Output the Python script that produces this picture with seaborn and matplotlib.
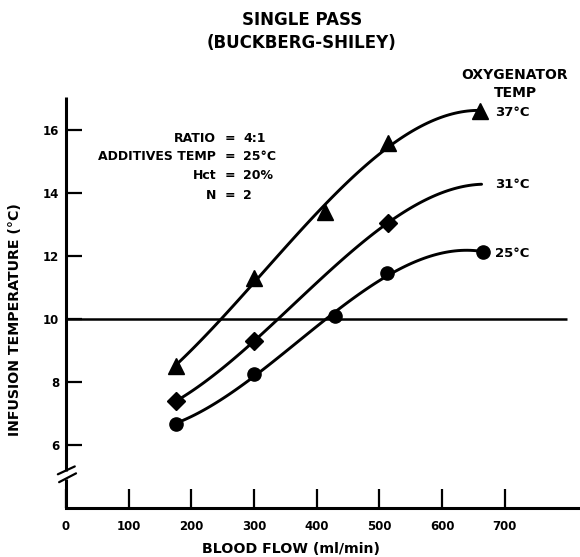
import matplotlib
matplotlib.use("Agg")
import matplotlib.pyplot as plt
import seaborn as sns
import numpy as np
import pandas as pd

# ---- data ----
flow_37 = [175, 300, 413, 514, 660]
temp_37 = [8.5, 11.3, 13.4, 15.6, 16.6]

flow_31 = [176, 300, 514]
temp_31 = [7.4, 9.3, 13.06]
flow_31_curve = [176, 300, 514, 663]      # curve continues past last marker
temp_31_curve = [7.4, 9.3, 13.06, 14.28]

flow_25 = [176, 300, 429, 512, 665]
temp_25 = [6.68, 8.24, 10.1, 11.45, 12.13]

x_ticks = [0, 100, 200, 300, 400, 500, 600, 700]
y_ticks = [6, 8, 10, 12, 14, 16]
ref_level = 10
ref_end = 800

series_labels = ["37°C", "31°C", "25°C"]
info_keys = ["RATIO", "ADDITIVES TEMP", "Hct", "N"]
info_vals = ["4:1", "25°C", "20%", "2"]

# ---- style ----
sns.set_style("white")
plt.rcParams["font.family"] = ["DejaVu Sans"]
plt.rcParams["font.weight"] = "bold"

W, H = 580, 557
fig = plt.figure(figsize=(W / 100, H / 100), dpi=100)
ax = fig.add_axes([66 / W, 49 / H, 1 - 66 / W, (508 - 97) / H])
ax.set_xlim(0, 820)
ax.set_ylim(4, 17.05)

lw = 2.1
k = "black"

# smooth curves (seaborn polynomial fit through the points)
for fx, fy in [(flow_37, temp_37), (flow_31_curve, temp_31_curve), (flow_25, temp_25)]:
    sns.regplot(x=fx, y=fy, order=3, ci=None, scatter=False, truncate=True,
                ax=ax, line_kws=dict(color=k, lw=lw))

# markers
ax.plot(flow_37, temp_37, linestyle="none", marker="^", ms=11, color=k, clip_on=False)
ax.plot(flow_31, temp_31, linestyle="none", marker="D", ms=9, color=k, clip_on=False)
ax.plot(flow_25, temp_25, linestyle="none", marker="o", ms=9.5, color=k, clip_on=False)

# reference line
ax.hlines(ref_level, 0, ref_end, color=k, lw=1.8)

# spines
for s in ["top", "right", "left"]:
    ax.spines[s].set_visible(False)
ax.spines["bottom"].set_linewidth(2.2)
ax.spines["bottom"].set_color(k)

# broken left axis
ax.plot([0, 0], [5.19, 17.05], color=k, lw=2.2, clip_on=False, solid_capstyle="butt")
ax.plot([0, 0], [4, 4.93], color=k, lw=2.2, clip_on=False, solid_capstyle="butt")
ax.plot([-13, 14], [5.07, 5.32], color=k, lw=1.6, clip_on=False)
ax.plot([-11, 16], [4.82, 5.10], color=k, lw=1.6, clip_on=False)

# ticks
ax.set_xticks(x_ticks)
ax.set_yticks(y_ticks)
ax.set_xticklabels([str(v) for v in x_ticks], fontsize=8.5, fontweight="bold")
ax.set_yticklabels([str(v) for v in y_ticks], fontsize=8.5, fontweight="bold")
ax.tick_params(axis="x", direction="in", length=14, width=1.6, pad=9, colors=k,
               bottom=True)
ax.tick_params(axis="y", direction="in", length=11.5, width=1.6, pad=5, colors=k,
               left=True)
ax.set_xlabel("")
ax.set_ylabel("")

# titles and labels in figure pixel coordinates
def ftext(x, y, s, **kw):
    fig.text(x / W, 1 - y / H, s, fontweight="bold", color=k, **kw)

ftext(302, 20, "SINGLE PASS", fontsize=12, ha="center", va="center")
ftext(302, 43, "(BUCKBERG-SHILEY)", fontsize=12, ha="center", va="center")
ftext(291, 549, "BLOOD FLOW (ml/min)", fontsize=10.2, ha="center", va="center")
ftext(15, 320, "INFUSION TEMPERATURE (°C)", fontsize=10.2, ha="center", va="center",
      rotation=90)

ftext(515, 75, "OXYGENATOR", fontsize=10, ha="center", va="center")
ftext(515, 93, "TEMP", fontsize=10, ha="center", va="center")
for lab, yy in zip(series_labels, [112, 185, 253]):
    ftext(495, yy, lab, fontsize=9.5, ha="left", va="center")

for i, (kk, vv) in enumerate(zip(info_keys, info_vals)):
    yy = 138 + i * 19
    ftext(216, yy, kk, fontsize=9, ha="right", va="center")
    ftext(230, yy, "=", fontsize=9, ha="center", va="center")
    ftext(243, yy, vv, fontsize=9, ha="left", va="center")

fig.savefig("out.png", dpi=100)
